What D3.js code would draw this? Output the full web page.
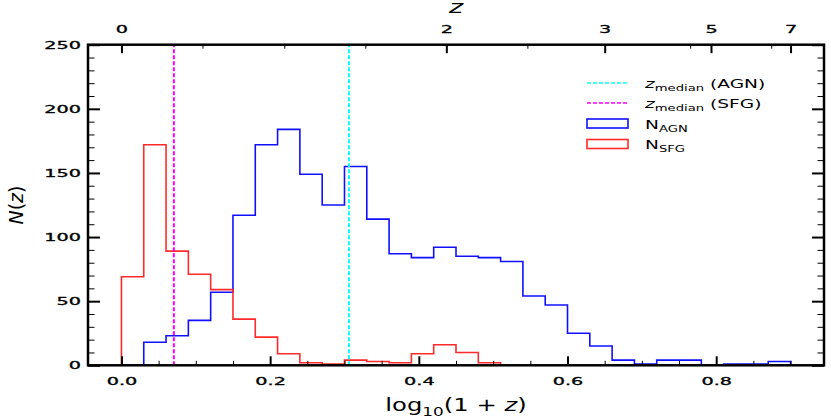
<!DOCTYPE html>
<html>
<head>
<meta charset="utf-8">
<script src="https://d3js.org/d3.v7.min.js"></script>
<style>
  body { margin: 0; background: #fff; }
  text { font-family: "DejaVu Sans", sans-serif; fill: #000; }
</style>
</head>
<body>
<script>
// histogram bins in log10(1+z)
var binEdges = [0.00, 0.03, 0.06, 0.09, 0.12, 0.15, 0.18, 0.21, 0.24, 0.27, 0.30,
                0.33, 0.36, 0.39, 0.42, 0.45, 0.48, 0.51, 0.54, 0.57, 0.60,
                0.63, 0.66, 0.69, 0.72, 0.75, 0.78, 0.81, 0.84, 0.87, 0.90];
var agnCounts = [0, 18, 23, 35, 57, 117, 172, 184, 149, 125, 155, 114, 87, 84, 92,
                 85, 84, 81, 54, 47, 25, 15, 4, 1, 4, 4, 0, 1, 1, 3];
var sfgCounts = [69, 172, 89, 71, 59, 36, 22, 9, 2, 1, 4, 3, 2, 9, 16,
                 10, 2, 0, 0, 0, 0, 0, 0, 0, 0, 0, 0, 0, 0, 0];
var agnMedian = 0.306;
var sfgMedian = 0.0705;

var xTicks = [0, 0.2, 0.4, 0.6, 0.8];
var yTicks = [0, 50, 100, 150, 200, 250];
// top axis (redshift z), positions given in log10(1+z) axis units
var zTickPos = [0, 0.437, 0.650, 0.793, 0.900];
var zTickLabels = ["0", "2", "3", "5", "7"];
var zMinorPos = [0.109, 0.219, 0.328, 0.546, 0.765, 0.874];

var width = 831, height = 416;
var pLeft = 88, pRight = 824, pTop = 44.7, pBottom = 365.3;

var svg = d3.select("body").append("svg")
    .attr("width", width)
    .attr("height", height);

var x = d3.scaleLinear().domain([-0.045, 0.945]).range([pLeft, pRight]);
var y = d3.scaleLinear().domain([0, 250]).range([pBottom, pTop]);

// step outline of a histogram
function stepPoints(counts) {
    var pts = [[x(binEdges[0]), y(0)]];
    counts.forEach(function(c, i) {
        pts.push([x(binEdges[i]), y(c)]);
        pts.push([x(binEdges[i + 1]), y(c)]);
    });
    pts.push([x(binEdges[binEdges.length - 1]), y(0)]);
    return pts;
}
var line = d3.line();

var g = svg.append("g");

g.append("path")
    .attr("d", line(stepPoints(agnCounts)))
    .attr("fill", "none")
    .attr("stroke", "#1010ff")
    .attr("stroke-width", 1.6);

g.append("path")
    .attr("d", line(stepPoints(sfgCounts)))
    .attr("fill", "none")
    .attr("stroke", "#ff2a2a")
    .attr("stroke-width", 1.6);

// median lines
[[agnMedian, "#00ffff"], [sfgMedian, "#ff00ff"]].forEach(function(m) {
    g.append("line")
        .attr("x1", x(m[0])).attr("x2", x(m[0]))
        .attr("y1", y(0)).attr("y2", y(250))
        .attr("stroke", m[1])
        .attr("stroke-width", 2)
        .attr("stroke-dasharray", "4,2");
});

// axes, ticks pointing inwards
function styleAxis(sel, major) {
    sel.select(".domain").remove();
    sel.selectAll(".tick line")
        .attr("stroke", "#000")
        .attr("stroke-width", major ? 2 : 1);
    sel.selectAll("text")
        .style("font-family", "'DejaVu Sans', sans-serif")
        .style("font-size", "11px")
        .style("stroke", "#000")
        .style("stroke-width", 0.3);
}

var minorX = d3.range(0.05, 0.95, 0.05).filter(function(v) {
    return Math.abs(v * 5 - Math.round(v * 5)) > 1e-6;
});
var minorY = d3.range(10, 250, 10).filter(function(v) { return v % 50 != 0; });

// bottom
svg.append("g").attr("transform", "translate(0," + pBottom + ")")
    .call(d3.axisBottom(x).tickValues(minorX).tickSize(-4.5).tickFormat(""))
    .call(styleAxis, false);
var xb = svg.append("g").attr("transform", "translate(0," + pBottom + ")")
    .call(d3.axisBottom(x).tickValues(xTicks).tickSize(-9).tickPadding(11.5)
        .tickFormat(d3.format(".1f")))
    .call(styleAxis, true);
xb.selectAll("text").attr("transform", "scale(1.75,1)");

// left
svg.append("g").attr("transform", "translate(" + pLeft + ",0)")
    .call(d3.axisLeft(y).tickValues(minorY).tickSize(-6.5).tickFormat(""))
    .call(styleAxis, false);
var yl = svg.append("g").attr("transform", "translate(" + pLeft + ",0)")
    .call(d3.axisLeft(y).tickValues(yTicks).tickSize(-12).tickFormat(d3.format("d")))
    .call(styleAxis, true);
yl.selectAll("text").attr("x", -7 / 1.75).attr("transform", "scale(1.75,1)");

// right
svg.append("g").attr("transform", "translate(" + pRight + ",0)")
    .call(d3.axisRight(y).tickValues(minorY).tickSize(-6.5).tickFormat(""))
    .call(styleAxis, false);
svg.append("g").attr("transform", "translate(" + pRight + ",0)")
    .call(d3.axisRight(y).tickValues(yTicks).tickSize(-12).tickFormat(""))
    .call(styleAxis, true);

// top (z)
svg.append("g").attr("transform", "translate(0," + pTop + ")")
    .call(d3.axisTop(x).tickValues(zMinorPos).tickSize(-4).tickFormat(""))
    .call(styleAxis, false);
var xt = svg.append("g").attr("transform", "translate(0," + pTop + ")")
    .call(d3.axisTop(x).tickValues(zTickPos).tickSize(-8.5).tickPadding(11.5)
        .tickFormat(function(d, i) { return zTickLabels[i]; }))
    .call(styleAxis, true);
xt.selectAll("text").attr("transform", "scale(1.75,1)");

// frame
svg.append("rect")
    .attr("x", pLeft).attr("y", pTop)
    .attr("width", pRight - pLeft).attr("height", pBottom - pTop)
    .attr("fill", "none")
    .attr("stroke", "#000")
    .attr("stroke-width", 2.5);

// axis labels
var xl = svg.append("text")
    .attr("transform", "translate(456,411) scale(1.35,1)")
    .attr("text-anchor", "middle")
    .style("font-size", "18px");
xl.append("tspan").text("log");
xl.append("tspan").attr("dy", 5).style("font-size", "12.5px").text("10");
xl.append("tspan").attr("dy", -5).text("(1 + ");
xl.append("tspan").style("font-style", "italic").text("z");
xl.append("tspan").text(")");

svg.append("text")
    .attr("transform", "translate(456,13) scale(1.5,1)")
    .attr("text-anchor", "middle")
    .style("font-size", "18px")
    .style("font-style", "italic")
    .text("z");

var ylab = svg.append("text")
    .attr("transform", "translate(23,205) scale(1.05,1) rotate(-90)")
    .attr("text-anchor", "middle")
    .style("font-size", "19px");
ylab.append("tspan").style("font-style", "italic").text("N");
ylab.append("tspan").text("(");
ylab.append("tspan").style("font-style", "italic").text("z");
ylab.append("tspan").text(")");

// legend
var legend = svg.append("g");
var rowY = [83, 103, 123.5, 144];
var legX0 = 587, legX1 = 628, textX = 645;

legend.append("line").attr("x1", legX0).attr("x2", legX1).attr("y1", rowY[0]).attr("y2", rowY[0])
    .attr("stroke", "#00ffff").attr("stroke-width", 1.6).attr("stroke-dasharray", "4,2");
legend.append("line").attr("x1", legX0).attr("x2", legX1).attr("y1", rowY[1]).attr("y2", rowY[1])
    .attr("stroke", "#ff00ff").attr("stroke-width", 1.6).attr("stroke-dasharray", "4,2");
legend.append("rect").attr("x", legX0).attr("y", rowY[2] - 4.5).attr("width", legX1 - legX0).attr("height", 9)
    .attr("fill", "none").attr("stroke", "#1010ff").attr("stroke-width", 1.6);
legend.append("rect").attr("x", legX0).attr("y", rowY[3] - 4.5).attr("width", legX1 - legX0).attr("height", 9)
    .attr("fill", "none").attr("stroke", "#ff2a2a").attr("stroke-width", 1.6);

function legendText(i, main, italic, sub, rest) {
    var t = legend.append("text")
        .attr("transform", "translate(" + textX + "," + (rowY[i] + 5) + ") scale(1.55,1)")
        .style("font-size", "12px");
    t.append("tspan").style("font-style", italic ? "italic" : "normal").text(main);
    t.append("tspan").attr("dy", 3).style("font-size", "8.5px").text(sub);
    if (rest) t.append("tspan").attr("dy", -3).text(rest);
}
legendText(0, "z", true, "median", " (AGN)");
legendText(1, "z", true, "median", " (SFG)");
legendText(2, "N", false, "AGN", "");
legendText(3, "N", false, "SFG", "");
</script>
</body>
</html>
